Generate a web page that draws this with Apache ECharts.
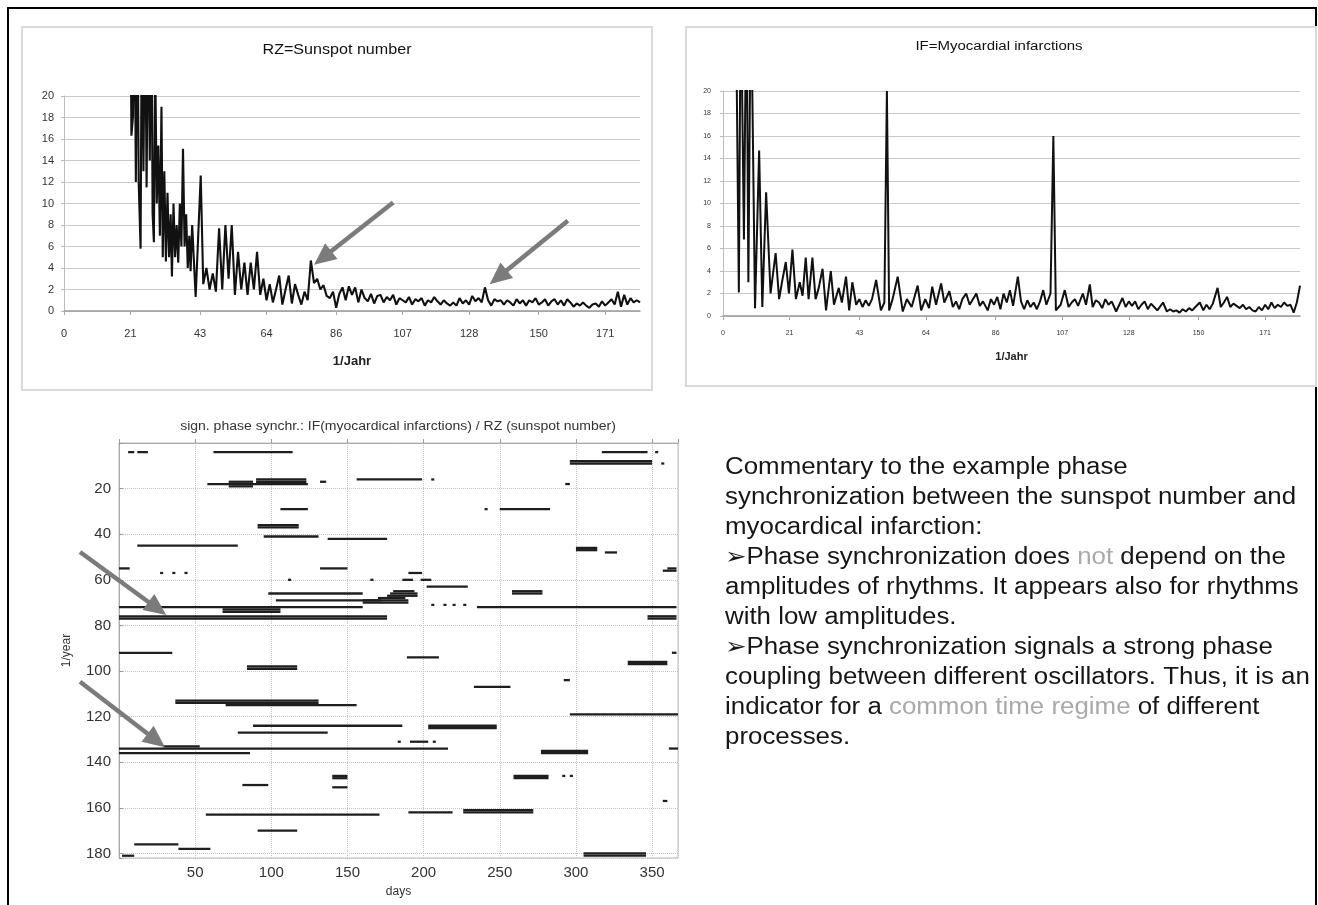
<!DOCTYPE html>
<html><head><meta charset="utf-8">
<script src="https://cdn.jsdelivr.net/npm/echarts@6/dist/echarts.min.js"></script>
<style>html,body{margin:0;padding:0;background:#fff}#c{width:1318px;height:905px}</style>
</head><body><div id="c"></div>
<script>
// ---------- data ----------
const topTickLabels = [0, 21, 43, 64, 86, 107, 128, 150, 171];

// RZ = sunspot number spectrum  [1/Jahr, amplitude]
const rzPoints = [
[21,30],[21.3,16.3],[21.8,18.1],[22.3,30],[22.7,12],[23.2,30],[23.6,12],[24.2,5.8],[24.6,30],[25.1,13],[25.6,30],[26.1,11.5],[26.6,30],[27.1,14],[27.6,30],[28,9],[28.4,6.4],[28.8,24],[29.3,10],[29.8,15.4],[30.3,7],[30.8,19],[31.2,5],[31.7,13],[32.2,4.6],[32.7,11],[33.2,5],[33.7,9],[34.1,3.2],[34.6,10],[35.1,5],[35.6,8],[36.1,4.5],[36.6,10],[37.1,6],[37.6,15.1],[38.1,6],[38.6,9],[39.1,4],[39.6,7],[40,3.7],[40.5,8],[41.6,1.3],[43.2,12.6],[44,2.5],[45,4],[46,2],[47,3.5],[48,1.8],[49,7.7],[50,2],[51,8],[52,3],[53,8],[54,1.5],[55,5.5],[56,2],[57,4.5],[58,1.5],[59,4.5],[60,2],[61,5.5],[62,1.5],[63,3],[64,1],[65,2.5],[66,0.8],[67,2],[68,3.3],[69,0.6],[70,2],[71,3.3],[72,0.7],[73,2.5],[74,1.5],[75,0.6],[76,1.8],[77,1],[78,4.7],[79,2.6],[80,3],[81,2],[82,2.4],[83,1.4],[84,1.2],[85,1.8],[86,0.3],[87,1.6],[88,2.2],[89,1],[90,2.3],[91,1.5],[92,2.2],[93,0.8],[94,2],[95,1.2],[96,0.9],[97,1.6],[98,0.7],[99,1.4],[100,1.5],[101,0.8],[102,1.3],[103,1],[104,1.5],[105,0.6],[106,1.2],[107,1],[108,0.8],[109,1.3],[110,0.6],[111,1.1],[112,0.9],[113,1.2],[114,0.5],[115,1],[116,0.8],[117,1.3],[118,0.9],[119,0.6],[120,1],[121,0.7],[122,0.5],[123,0.8],[124,0.5],[125,1.2],[126,0.7],[127,1],[128,0.6],[129,1.4],[130,0.9],[131,1.2],[132,0.8],[133,2.2],[134,1],[135,0.5],[136,1.1],[137,0.9],[138,1],[139,0.6],[140,1],[141,0.8],[142,0.5],[143,1.1],[144,0.7],[145,1],[146,0.5],[147,1],[148,0.8],[149,1.2],[150,0.6],[151,0.8],[152,1.1],[153,0.5],[154,0.9],[155,1.1],[156,0.6],[157,1],[158,0.5],[159,1.1],[160,0.8],[161,0.4],[162,0.7],[163,0.5],[164,0.8],[165,0.5],[166,0.3],[167,0.6],[168,0.7],[169,0.4],[170,0.9],[171,0.5],[172,0.8],[173,1.1],[174,0.6],[175,1.8],[176,0.4],[177,1.5],[178,0.6],[179,1.2],[180,0.8],[181,1],[182,0.8]
];

// IF = myocardial infarctions spectrum  [1/Jahr, amplitude]
const ifPoints = [
[4,30],[4.4,30],[5,2.1],[5.6,30],[6.6,6.8],[7.4,30],[8,3],[8.8,30],[10.1,0.7],[11.4,14.7],[12.4,0.8],[13.6,11],[15,2],[16.6,5.6],[17.7,1.5],[18.6,3],[19.8,4.8],[20.8,2],[21.9,5.9],[23,1.5],[24.2,3],[25.1,1.8],[26.1,5.2],[27,1.5],[28.2,5.2],[29.2,1.5],[30.2,2.5],[31.4,4.2],[32.5,0.5],[34,4],[35,1],[36.5,2.5],[37.5,1.2],[38.8,3.5],[39.8,0.5],[40.8,3],[42,1],[43,1.5],[44,0.8],[45,1.4],[46,0.9],[47,1.5],[48.3,3.2],[49.8,0.5],[50.9,1.2],[51.7,20],[52.4,0.5],[53.5,1.5],[55.1,3.5],[56.7,0.4],[58,1.5],[59.5,0.8],[61.4,2.7],[62.5,0.5],[63.8,1.5],[65,0.7],[66,2.6],[67.2,1],[68.8,2.9],[69.8,1.2],[71.4,2.2],[72.5,0.8],[73.5,1.3],[74.5,0.6],[75.5,1.5],[76.7,2],[77.8,1],[79.9,2],[81,0.9],[82,1.3],[83.5,0.5],[84.5,1.5],[85.5,1],[86.5,1.7],[87.5,0.6],[88.5,2],[89.5,1.2],[90.5,2.3],[91.5,0.9],[93,3.5],[94,1.3],[95,0.6],[96,1.4],[97,0.8],[98,1.2],[99,0.6],[100,1.3],[101,2.3],[102,1],[103.3,2],[104.2,16],[105,0.5],[106.5,1],[107.8,2.3],[109,0.8],[110,1.2],[111,1.5],[112,0.9],[113.5,2],[114.5,1],[115.7,2.8],[116.6,0.8],[117.6,1.4],[118.6,1.2],[119.6,0.7],[120.6,1.5],[121.6,1],[122.6,1.3],[124,0.4],[126,1.6],[127,0.8],[128,1.3],[129,0.9],[130,1.3],[131,0.6],[132,1],[133,1.3],[134,0.6],[135,1.1],[136,0.8],[137,0.5],[138.8,1.2],[140,0.4],[141,0.6],[142,0.4],[143,0.5],[144,0.3],[145,0.6],[146,0.4],[147,0.7],[148,0.5],[149,0.8],[150.4,1.2],[151.5,0.5],[152.5,1],[153.5,0.6],[154.5,1.1],[156,2.5],[157,0.8],[158,1.2],[159,1.7],[160,0.8],[161,1.1],[162,0.9],[163,0.7],[164,1],[165,0.6],[166,0.8],[167,0.5],[168,0.4],[169,0.8],[170,0.5],[171,1],[172,0.6],[173,1.2],[174,0.7],[175,1],[176,0.8],[177,1.2],[178,0.9],[179,1],[180,0.3],[181,1.2],[182,2.7]
];

// significant phase synchronization: [day start, day end, 1/year]
const syncSegments = [
[6,10,4],[12,19,4],[62,114,4],[317,347,4],[352,354,4],
[296,350,8],[296,350,9],[356,358,9],
[58,124,18],[72,88,17],[72,88,19],[90,123,16],[90,123,17],[132,136,17],
[156,199,16],[205,207,16],[293,296,18],
[106,124,29],[240,242,29],[250,283,29],
[91,118,36],[91,118,37],
[95,131,41],[137,176,42],
[12,78,45],[300,314,46],[300,314,47],[319,327,48],
[0,7,55],[27,29,57],[35,37,57],[43,45,57],
[132,150,55],[357,366,56],[360,366,55],[190,199,57],
[111,113,60],[165,167,60],[186,193,60],[198,205,60],
[202,229,63],[258,278,65],[258,278,66],
[98,160,66],[180,194,65],[178,196,66],[176,196,67],
[103,172,69],[160,190,69],[160,190,70],[170,188,68],
[205,207,71],[213,215,71],[219,221,71],[226,228,71],
[0,160,72],[235,366,72],[68,106,73],[68,106,74],
[0,176,76],[0,176,77],[347,366,76],[347,366,77],
[0,35,92],[363,366,92],[189,210,94],
[334,360,96],[334,360,97],[84,117,98],[84,117,99],
[292,296,104],[233,257,107],
[37,131,113],[37,131,114],[70,156,115],
[296,367,119],
[88,186,124],[203,248,124],[203,248,125],
[78,137,127],
[183,185,131],[191,203,131],[206,208,131],
[0,216,134],[29,53,133],[361,367,134],
[0,86,136],[277,308,135],[277,308,136],
[140,150,146],[140,150,147],[259,282,146],[259,282,147],[291,293,146],[296,298,146],
[81,98,150],[140,150,151],
[357,360,157],
[226,272,161],[226,272,162],[190,219,162],[57,171,163],
[91,117,170],
[10,39,176],[39,60,178],
[305,346,180],[305,346,181],[2,10,181]
];

// annotation arrows: [fromX, fromY, toX, toY] in data units
const rzArrows = [[104, 10.1, 79, 4.3], [159.2, 8.4, 134.5, 2.5]];
const syncArrows = [[-25.6, 47.8, 31, 75.4], [-25.6, 104.7, 30.2, 133.4]];

const commentLines = [
  'Commentary to the example phase',
  'synchronization between the sunspot number and',
  'myocardical infarction:',
  '\u27A2Phase synchronization does {g|not} depend on the',
  'amplitudes of rhythms. It appears also for rhythms',
  'with low amplitudes.',
  '\u27A2Phase synchronization signals a strong phase',
  'coupling between different oscillators. Thus, it is an',
  'indicator for a {g|common time regime} of different',
  'processes.'
];

// ---------- chart ----------
const FONT = '"Liberation Sans", Arial, Helvetica, sans-serif';
const chart = echarts.init(document.getElementById('c'), null, {renderer: 'canvas'});

function topX(gridIndex, fs, margin, nameGap, nameFs) {
  return {
    type: 'value', gridIndex: gridIndex, min: 0, max: 182,
    name: '1/Jahr', nameLocation: 'middle', nameGap: nameGap,
    nameTextStyle: {fontFamily: FONT, fontWeight: 'bold', fontSize: nameFs, color: '#222'},
    axisLine: {show: true, lineStyle: {color: '#9a9a9a', width: 1.5}},
    axisTick: {show: true, length: 4, lineStyle: {color: '#aaa'}, customValues: topTickLabels},
    axisLabel: {customValues: topTickLabels, fontFamily: FONT, fontSize: fs, color: '#333', margin: margin},
    splitLine: {show: false}
  };
}
function topY(gridIndex, fs, margin) {
  return {
    type: 'value', gridIndex: gridIndex, min: 0, max: 20, interval: 2,
    axisLine: {show: true, lineStyle: {color: '#bdbdbd', width: 1}},
    axisTick: {show: true, length: 3, lineStyle: {color: '#bbb'}},
    axisLabel: {fontFamily: FONT, fontSize: fs, color: '#333', margin: margin},
    splitLine: {show: true, lineStyle: {color: '#c9c9c9', width: 1.2}}
  };
}

const option = {
  animation: false,
  backgroundColor: '#fff',
  grid: [
    {left: 64, top: 96, width: 576, height: 215},
    {left: 723, top: 91, width: 577, height: 225},
    {left: 119, top: 443, width: 559, height: 415, show: true, borderColor: '#bdbdbd', borderWidth: 1}
  ],
  xAxis: [
    topX(0, 11, 17, 44, 13),
    topX(1, 7, 14, 35, 11),
    {
      type: 'value', gridIndex: 2, min: 0, max: 367, interval: 50,
      name: 'days', nameLocation: 'middle', nameGap: 28,
      nameTextStyle: {fontFamily: FONT, fontSize: 12, color: '#333'},
      axisLine: {show: true, lineStyle: {color: '#aaa'}},
      axisTick: {show: true, inside: true, length: 4, lineStyle: {color: '#999'}},
      axisLabel: {fontFamily: FONT, fontSize: 15, color: '#333', margin: 7,
        formatter: v => (v > 0 && v % 50 === 0) ? String(v) : ''},
      splitLine: {show: true, lineStyle: {color: '#c4c4c4', type: 'dotted', width: 1}}
    }
  ],
  yAxis: [
    topY(0, 11, 10),
    topY(1, 7, 12),
    {
      type: 'value', gridIndex: 2, min: 0, max: 182, interval: 20, inverse: true,
      name: '1/year', nameLocation: 'middle', nameGap: 46, nameRotate: 90,
      nameTextStyle: {fontFamily: FONT, fontSize: 12, color: '#333'},
      axisLine: {show: true, lineStyle: {color: '#aaa'}},
      axisTick: {show: true, inside: true, length: 4, lineStyle: {color: '#999'}},
      axisLabel: {fontFamily: FONT, fontSize: 15, color: '#333', margin: 8,
        formatter: v => (v > 0 && v % 20 === 0) ? String(v) : ''},
      splitLine: {show: true, lineStyle: {color: '#c4c4c4', type: 'dotted', width: 1}}
    }
  ],
  series: [
    {type: 'line', xAxisIndex: 0, yAxisIndex: 0, data: rzPoints, showSymbol: false, clip: true,
      lineStyle: {color: '#111', width: 2.1}},
    {type: 'line', xAxisIndex: 1, yAxisIndex: 1, data: ifPoints, showSymbol: false, clip: true,
      lineStyle: {color: '#111', width: 2}},
    {type: 'custom', xAxisIndex: 2, yAxisIndex: 2, data: syncSegments, clip: true,
      encode: {x: [0, 1], y: 2},
      renderItem: function (params, api) {
        const a = api.coord([api.value(0), api.value(2) - 0.5]);
        const b = api.coord([api.value(1), api.value(2) + 0.5]);
        return {type: 'rect',
          shape: {x: a[0], y: Math.min(a[1], b[1]), width: Math.max(b[0] - a[0], 2), height: Math.abs(b[1] - a[1])},
          style: {fill: '#1e1e1e'}};
      }}
  ],
  graphic: [
    {type: 'rect', id: 'frame', z: -10, silent: true, shape: {x: 8, y: 8, width: 1308, height: 920},
      style: {fill: 'none', stroke: '#000', lineWidth: 2}},
    {type: 'rect', id: 'p1', z: -9, silent: true, shape: {x: 22, y: 27, width: 630, height: 363},
      style: {fill: 'none', stroke: '#dadada', lineWidth: 2}},
    {type: 'rect', id: 'p2', z: -9, silent: true, shape: {x: 686, y: 27, width: 630, height: 359},
      style: {fill: 'none', stroke: '#dadada', lineWidth: 2}},
    {type: 'text', id: 't1', x: 337, y: 50, scaleX: 1.15, silent: true,
      style: {text: 'RZ=Sunspot number', font: '14px ' + FONT, fill: '#111', align: 'center', verticalAlign: 'middle'}},
    {type: 'text', id: 't2', x: 999, y: 47, scaleX: 1.2, silent: true,
      style: {text: 'IF=Myocardial infarctions', font: '12.5px ' + FONT, fill: '#111', align: 'center', verticalAlign: 'middle'}},
    {type: 'text', id: 't3', x: 398, y: 427, scaleX: 1.12, silent: true,
      style: {text: 'sign. phase synchr.: IF(myocardical infarctions) / RZ (sunspot number)', font: '12.5px ' + FONT,
        fill: '#333', align: 'center', verticalAlign: 'middle'}},
    {type: 'text', id: 'comment', x: 725, y: 453, scaleX: 1.125, silent: true,
      style: {text: commentLines.join('\n'), fontSize: 23, fontFamily: FONT, fill: '#161616', lineHeight: 30,
        align: 'left', verticalAlign: 'top',
        rich: {g: {fill: '#a9a9a9', fontSize: 23, fontFamily: FONT, lineHeight: 30}}}}
  ]
};
chart.setOption(option);

function arrowGraphic(id, gridIndex, a) {
  const p1 = chart.convertToPixel({gridIndex: gridIndex}, [a[0], a[1]]);
  const p2 = chart.convertToPixel({gridIndex: gridIndex}, [a[2], a[3]]);
  const dx = p2[0] - p1[0], dy = p2[1] - p1[1];
  const len = Math.sqrt(dx * dx + dy * dy);
  const ux = dx / len, uy = dy / len;
  const headL = 22, headW = 10;
  const bx = p2[0] - ux * headL, by = p2[1] - uy * headL;
  return [
    {type: 'line', id: id + 'l', z: 100, silent: true,
      shape: {x1: p1[0], y1: p1[1], x2: bx + ux * 3, y2: by + uy * 3},
      style: {stroke: '#7b7b7b', lineWidth: 4.5}},
    {type: 'polygon', id: id + 'h', z: 100, silent: true,
      shape: {points: [[p2[0], p2[1]], [bx - uy * headW, by + ux * headW], [bx + uy * headW, by - ux * headW]]},
      style: {fill: '#7b7b7b'}}
  ];
}
let arrows = [];
rzArrows.forEach((a, i) => { arrows = arrows.concat(arrowGraphic('ra' + i, 0, a)); });
syncArrows.forEach((a, i) => { arrows = arrows.concat(arrowGraphic('sa' + i, 2, a)); });
chart.setOption({graphic: arrows});
</script>
</body></html>
